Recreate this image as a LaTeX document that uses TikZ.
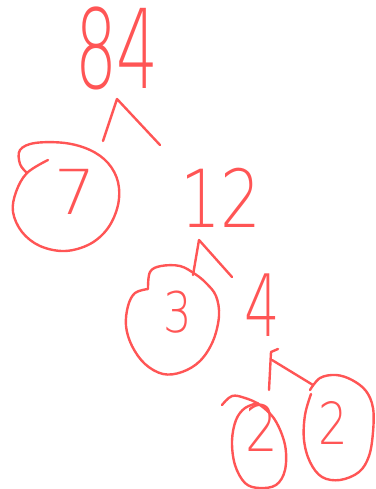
\documentclass[tikz,border=0pt]{standalone}
\usepackage{fontspec}
\newfontfamily\hand{DejaVu Sans ExtraLight}
\definecolor{ink}{RGB}{255,85,85}
\begin{document}
\begin{tikzpicture}[x=1pt,y=-1pt,
  stroke/.style={draw=ink,line width=2.4pt,line cap=round,line join=round},
  num/.style={text=ink,inner sep=0pt,font=\hand},
  loop/.style={stroke,smooth,tension=0.6}]
\useasboundingbox (0,0) rectangle (375,489);
% numbers
\node[num,xscale=0.6,font=\hand\fontsize{110}{110}\selectfont] (n84) at (117,48) {84};
\node[num,xscale=0.8,font=\hand\fontsize{80}{80}\selectfont] (n12) at (221,198) {12};
\node[num,xscale=0.65,font=\hand\fontsize{86}{86}\selectfont] (n4) at (262,305) {4};
\node[num,xscale=1.05,font=\hand\fontsize{62}{62}\selectfont] (n7) at (75,192) {7};
\node[num,xscale=0.8,font=\hand\fontsize{56}{56}\selectfont] (n3) at (178,312) {3};
\node[num,xscale=0.8,font=\hand\fontsize{64}{64}\selectfont] (n2a) at (262,428) {2};
\node[num,xscale=0.8,font=\hand\fontsize{58}{58}\selectfont] (n2b) at (333,423) {2};
% circles
\draw[loop] plot coordinates {(48,160) (27,173) (16,192) (13,212) (22,232) (40,246) (65,251) (90,244) (108,228) (118,205) (118,182) (108,163) (90,150) (65,143) (35,143) (20,150) (20,164) (27,173)};
\draw[loop] plot coordinates {(148,289) (135,293) (128,306) (126,326) (132,346) (145,364) (163,374) (182,372) (200,361) (213,341) (219,316) (216,296) (206,283) (195,274) (180,266) (161,266) (150,272) (148,289)};
\draw[loop] plot coordinates {(222,405) (232,396) (245,398) (260,405) (275,420) (285,445) (285,470) (276,485) (259,488) (245,483) (235,465) (232,441) (236,420) (245,408) (258,403)};
\draw[loop] plot coordinates {(310,390) (320,378) (336,375) (352,380) (366,391) (373,408) (373,432) (369,456) (359,472) (340,480) (322,477) (310,462) (304,440) (305,415) (311,394)};
% branches
\coordinate (a1) at (117,99);
\coordinate (l1) at (103,141);
\coordinate (r1) at (160,145);
\coordinate (a2) at (199,240);
\coordinate (l2) at (193,275);
\coordinate (r2) at (232,277);
\coordinate (a3) at (278,349);
\coordinate (l3) at (269,390);
\coordinate (r3) at (313,385);
\draw[stroke] (l1) -- (a1) -- (r1);
\draw[stroke] (l2) -- (a2) -- (r2);
\draw[stroke] (l3) -- (271,352) -- (a3);
\draw[stroke] (272,360) -- (r3);
\end{tikzpicture}
\end{document}
